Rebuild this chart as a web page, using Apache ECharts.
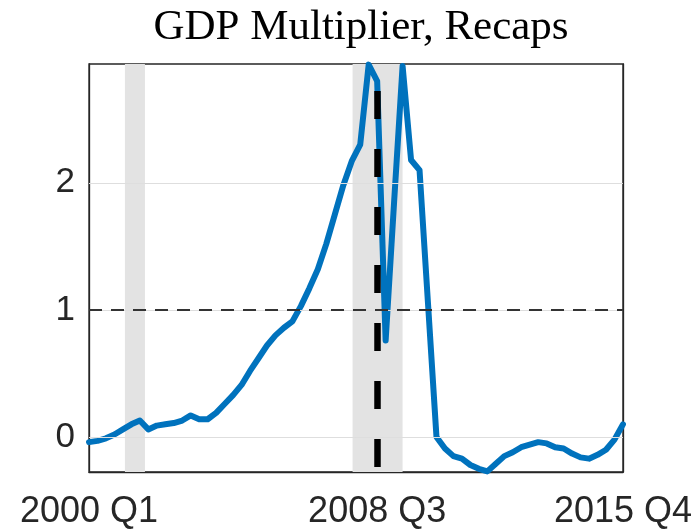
<!DOCTYPE html>
<html>
<head>
<meta charset="utf-8">
<script src="https://cdn.jsdelivr.net/npm/echarts@6/dist/echarts.min.js"></script>
<style>
  html, body { margin: 0; padding: 0; background: #ffffff; }
  #chart { width: 695px; height: 530px; }
</style>
</head>
<body>
<div id="chart"></div>
<script>
// Quarter index 0 = 2000 Q1 ... 63 = 2015 Q4
const titleText = 'GDP Multiplier, Recaps';
const multiplier = [
  -0.04, -0.03, -0.01, 0.02, 0.06, 0.10, 0.13, 0.06,
  0.09, 0.10, 0.11, 0.13, 0.17, 0.14, 0.14, 0.19,
  0.26, 0.33, 0.41, 0.52, 0.62, 0.72, 0.80, 0.86,
  0.91, 1.03, 1.17, 1.32, 1.52, 1.75, 1.98, 2.17,
  2.30, 2.93, 2.80, 0.76, 1.85, 2.92, 2.18, 2.10,
  1.05, 0.00, -0.09, -0.15, -0.17, -0.22, -0.25, -0.27,
  -0.21, -0.15, -0.12, -0.08, -0.06, -0.04, -0.05, -0.08,
  -0.09, -0.13, -0.16, -0.17, -0.14, -0.10, -0.02, 0.10
];
const xTickPositions = [0, 34, 63];
const xTickLabels = ['2000 Q1', '2008 Q3', '2015 Q4'];
const yTickValues = [0, 1, 2];
const recessions = [[4.24, 6.6], [31.1, 37.0]];
const eventQuarter = 34;       // 2008 Q3
const referenceLevel = 1;
const yMin = -0.275, yMax = 2.935;
const xMin = 0, xMax = 63;

const seriesData = multiplier.map((v, i) => [i, v]);

const chart = echarts.init(document.getElementById('chart'), null, { renderer: 'canvas' });
const axisColor = '#262626';
const labelFont = 'Liberation Sans, Arial, Helvetica, sans-serif';

chart.setOption({
  animation: false,
  backgroundColor: '#ffffff',
  title: {
    text: titleText,
    left: 356,
    top: 1,
    textAlign: 'center',
    textStyle: {
      fontFamily: 'Liberation Serif, Times New Roman, serif',
      fontWeight: 'normal',
      fontSize: 43,
      color: '#000000'
    }
  },
  grid: {
    left: 89, right: 71, top: 64, bottom: 57,
    show: true, borderColor: axisColor, borderWidth: 1.3,
    backgroundColor: 'transparent'
  },
  xAxis: {
    type: 'value', min: xMin, max: xMax,
    axisLine: { show: true, onZero: false, lineStyle: { color: axisColor, width: 1.3 } },
    axisTick: { show: true, inside: true, length: 5, customValues: xTickPositions, lineStyle: { color: axisColor } },
    splitLine: { show: false },
    axisLabel: {
      customValues: xTickPositions,
      formatter: v => { const k = xTickPositions.indexOf(Math.round(v)); return k >= 0 ? xTickLabels[k] : ''; },
      fontFamily: labelFont, fontSize: 36, color: axisColor, margin: 22
    }
  },
  yAxis: [{
    type: 'value', min: yMin, max: yMax,
    axisLine: { show: true, onZero: false, lineStyle: { color: axisColor, width: 1.3 } },
    axisTick: { show: true, inside: true, length: 5, customValues: yTickValues, lineStyle: { color: axisColor } },
    splitLine: { show: false },
    axisLabel: {
      customValues: yTickValues,
      fontFamily: labelFont, fontSize: 35, color: axisColor, margin: 14
    }
  }, {
    type: 'value', min: yMin, max: yMax, position: 'right',
    axisLine: { show: true, onZero: false, lineStyle: { color: axisColor, width: 1.3 } },
    axisTick: { show: true, inside: true, length: 5, customValues: yTickValues, lineStyle: { color: axisColor } },
    splitLine: { show: false },
    axisLabel: { show: false }
  }],
  series: [
    {
      type: 'line',
      name: 'bands',
      data: [],
      silent: true,
      z: 1,
      markArea: {
        silent: true,
        itemStyle: { color: '#e3e3e3', opacity: 1 },
        data: recessions.map(r => [{ xAxis: r[0] }, { xAxis: r[1] }])
      },
      markLine: {
        silent: true,
        symbol: 'none',
        label: { show: false },
        lineStyle: { color: '#dedede', width: 1, type: 'solid' },
        data: yTickValues.map(v => ({ yAxis: v }))
      }
    },
    {
      type: 'line',
      name: 'reference',
      data: [],
      silent: true,
      z: 2,
      markLine: {
        silent: true,
        symbol: 'none',
        label: { show: false },
        lineStyle: { color: '#333333', width: 1.8, type: [13, 9] },
        data: [{ yAxis: referenceLevel }]
      }
    },
    {
      type: 'line',
      name: 'event',
      data: [],
      silent: true,
      z: 4,
      markLine: {
        silent: true,
        symbol: 'none',
        label: { show: false },
        lineStyle: { color: '#000000', width: 6.5, type: [28, 30], dashOffset: 53 },
        data: [{ xAxis: eventQuarter }]
      }
    },
    {
      type: 'line',
      name: 'GDP multiplier',
      data: seriesData,
      showSymbol: false,
      symbol: 'none',
      z: 3,
      clip: true,
      lineStyle: { color: '#0072BD', width: 6, join: 'round', cap: 'round' }
    }
  ]
});
</script>
</body>
</html>
